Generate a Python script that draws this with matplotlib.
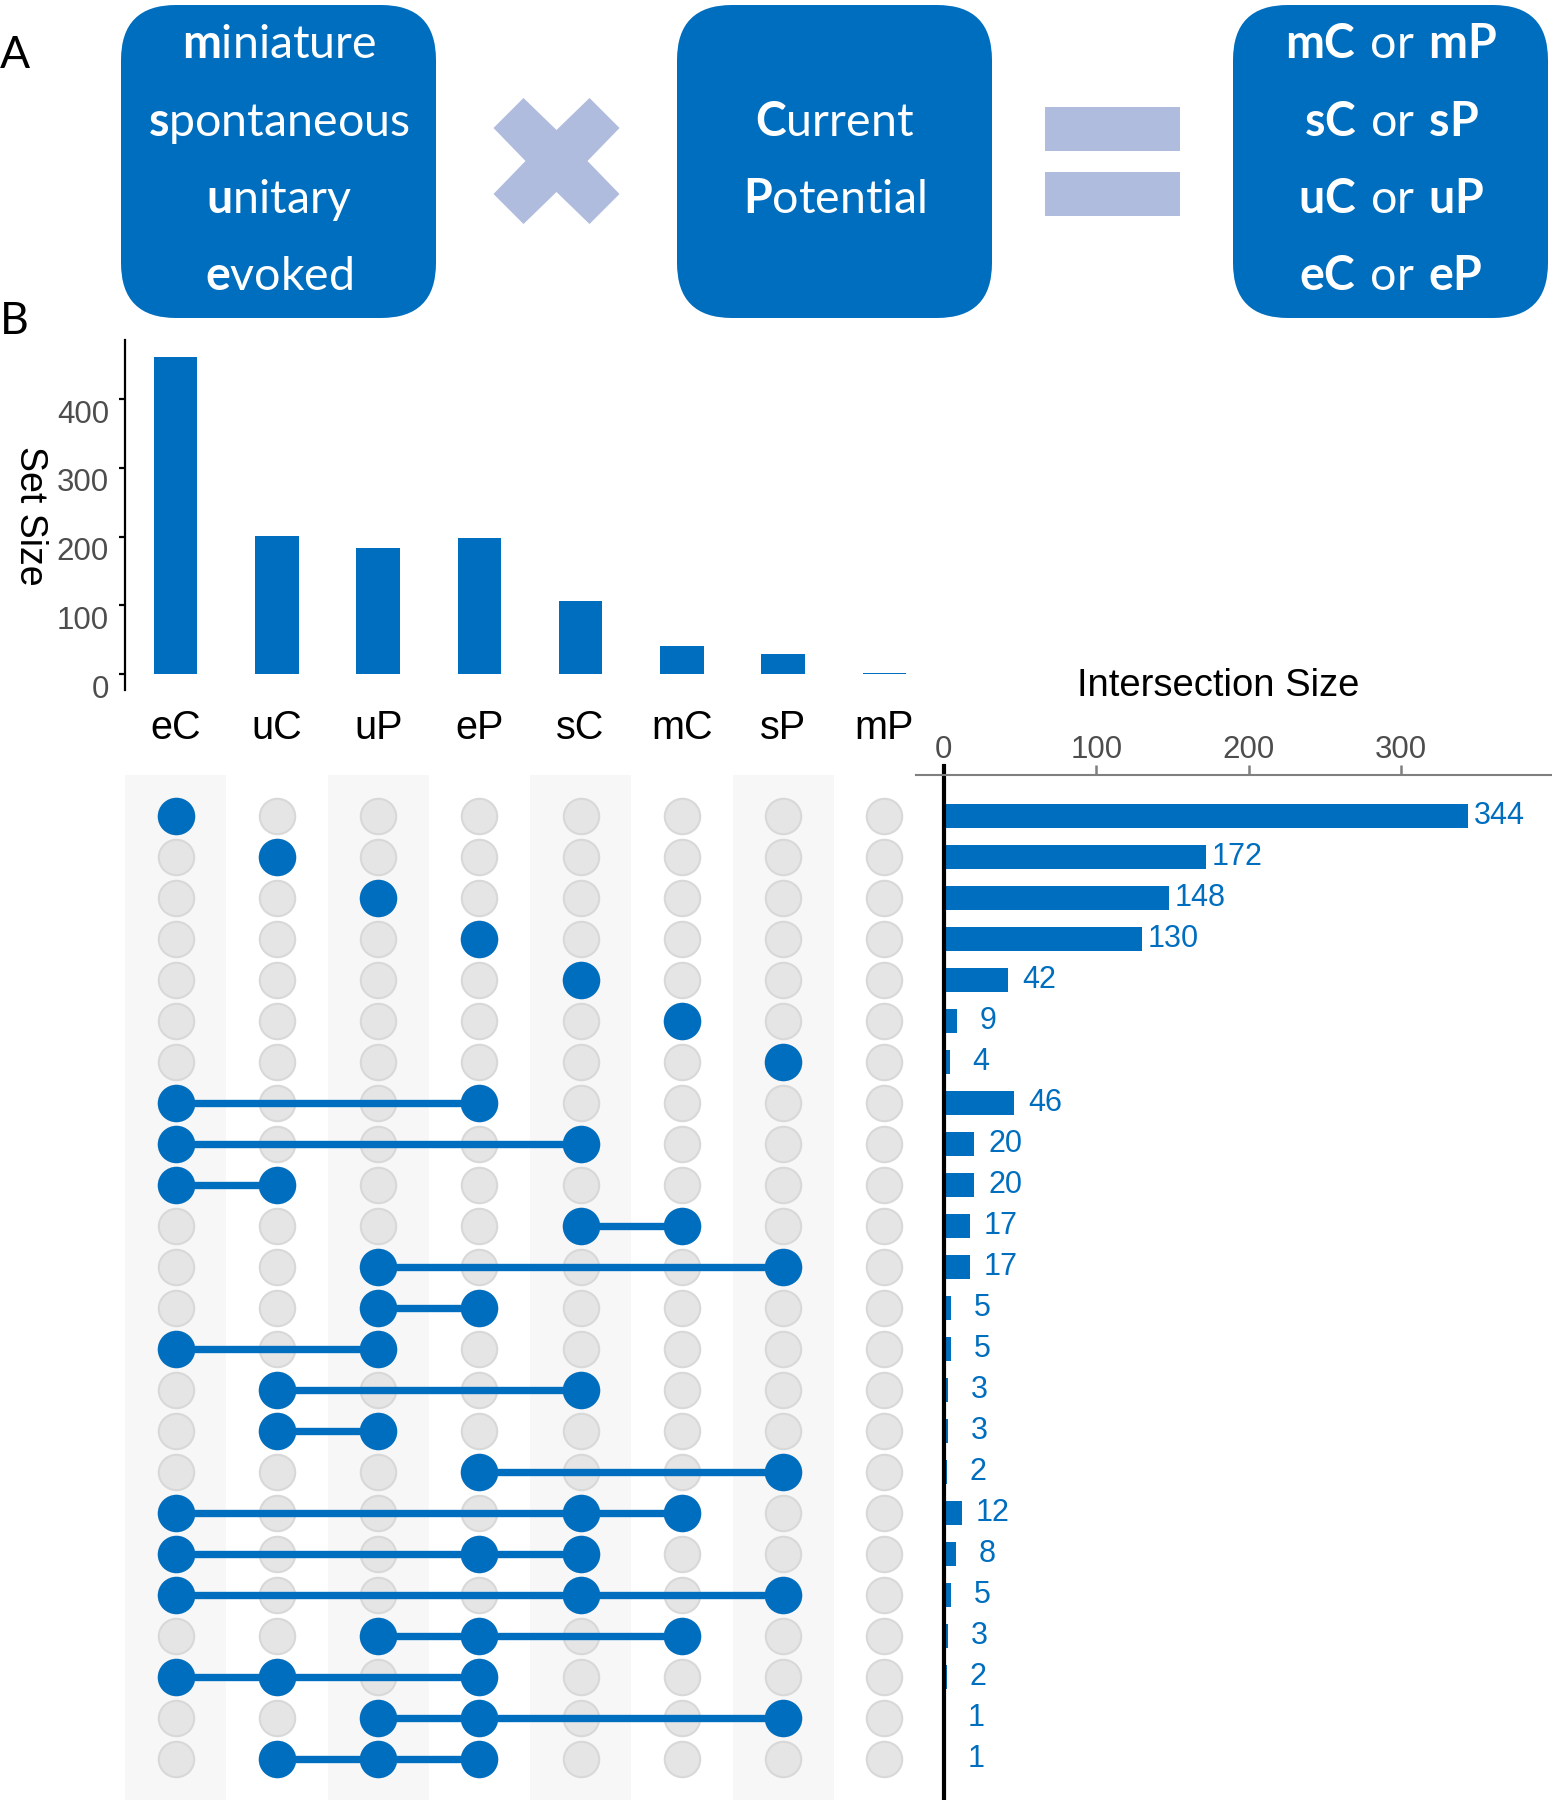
import numpy as np
import matplotlib
matplotlib.use('Agg')
import matplotlib.pyplot as plt
from matplotlib.patches import FancyBboxPatch, Polygon, Rectangle
from matplotlib.transforms import ScaledTranslation

# --- data -------------------------------------------------------------
sets = ['eC', 'uC', 'uP', 'eP', 'sC', 'mC', 'sP', 'mP']
set_sizes = [462, 201, 183, 198, 107, 41, 29, 1]

# intersections, listed top to bottom
inter_members = [
    ['eC'], ['uC'], ['uP'], ['eP'], ['sC'], ['mC'], ['sP'],
    ['eC', 'eP'], ['eC', 'sC'], ['eC', 'uC'], ['sC', 'mC'], ['uP', 'sP'],
    ['uP', 'eP'], ['eC', 'uP'], ['uC', 'sC'], ['uC', 'uP'], ['eP', 'sP'],
    ['eC', 'sC', 'mC'], ['eC', 'eP', 'sC'], ['eC', 'sC', 'sP'],
    ['uP', 'eP', 'mC'], ['eC', 'uC', 'eP'], ['uP', 'eP', 'sP'],
    ['uC', 'uP', 'eP'],
]
inter_sizes = [344, 172, 148, 130, 42, 9, 4, 46, 20, 20, 17, 17,
               5, 5, 3, 3, 2, 12, 8, 5, 3, 2, 1, 1]

set_ticks = [0, 100, 200, 300, 400]
inter_ticks = [0, 100, 200, 300]

# panel A words
event_types = ['miniature', 'spontaneous', 'unitary', 'evoked']
measures = ['Current', 'Potential']

BLUE = '#006EBF'
LIGHT = '#AFBCDD'

plt.rcParams['font.family'] = ['Liberation Sans', 'DejaVu Sans']
plt.rcParams['mathtext.fontset'] = 'custom'
plt.rcParams['mathtext.rm'] = 'Lato'
plt.rcParams['mathtext.bf'] = 'Lato:bold'

W, H = 1552, 1800
fig = plt.figure(figsize=(W / 100, H / 100), dpi=100)


def box(l, t, r, b):
    # pixel box (from top-left) -> figure fraction rect
    return [l / W, 1 - b / H, (r - l) / W, (b - t) / H]


# --- panel A: overlay in pixel coordinates -----------------------------
ax_a = fig.add_axes([0, 0, 1, 1])
ax_a.set_xlim(0, W)
ax_a.set_ylim(H, 0)
ax_a.axis('off')

box_x = [121, 677, 1233]
for bx in box_x:
    ax_a.add_patch(FancyBboxPatch((bx, 5), 315, 313,
                                  boxstyle='round,pad=0,rounding_size=55',
                                  fc=BLUE, ec='none'))

# multiplication sign
cx, cy = 556.5, 161
hs, nk = 63, 31
xs_pts = [(-hs, -hs + 30), (-hs + 30, -hs), (0, -nk), (hs - 30, -hs), (hs, -hs + 30),
          (nk, 0), (hs, hs - 30), (hs - 30, hs), (0, nk), (-hs + 30, hs),
          (-hs, hs - 30), (-nk, 0)]
ax_a.add_patch(Polygon([(cx + dx, cy + dy) for dx, dy in xs_pts],
                       closed=True, fc=LIGHT, ec='none'))
# equals sign
ax_a.add_patch(Rectangle((1045, 107), 135, 44, fc=LIGHT, ec='none'))
ax_a.add_patch(Rectangle((1045, 172), 135, 44, fc=LIGHT, ec='none'))

baselines = [58, 135.5, 213, 290.5]
fs_a = 33.5
for word, yb in zip(event_types, baselines):
    ax_a.text(279, yb, r'$\mathbf{%s}\mathrm{%s}$' % (word[0], word[1:]),
              ha='center', va='baseline', color='white', fontsize=fs_a)
for word, yb in zip(measures, baselines[1:3]):
    ax_a.text(834.5, yb, r'$\mathbf{%s}\mathrm{%s}$' % (word[0], word[1:]),
              ha='center', va='baseline', color='white', fontsize=fs_a)
for word, yb in zip(event_types, baselines):
    k = word[0]
    ax_a.text(1391, yb, r'$\mathbf{%sC}\mathrm{\ or\ }\mathbf{%sP}$' % (k, k),
              ha='center', va='baseline', color='white', fontsize=fs_a)

ax_a.text(15, 56, 'A', ha='center', va='center', fontsize=32, family='Lato')
ax_a.text(14, 321, 'B', ha='center', va='center', fontsize=32, family='Lato')

# --- panel B: set sizes ---------------------------------------------------
xpos = np.arange(len(sets))
ax_set = fig.add_axes(box(125, 340, 935, 690))
ax_set.bar(xpos, set_sizes, width=0.43, color=BLUE)
ax_set.set_xlim(-0.5, len(sets) - 0.5)
ax_set.set_ylim(-23, 486)
for s in ['top', 'right', 'bottom']:
    ax_set.spines[s].set_visible(False)
ax_set.spines['left'].set_linewidth(1.6)
ax_set.set_yticks(set_ticks)
ax_set.tick_params(axis='y', length=4.5, width=1.6, labelsize=22.5,
                   labelcolor='#4D4D4D', pad=7)
ax_set.set_xticks(xpos, sets)
ax_set.tick_params(axis='x', length=0, labelsize=28.5, pad=14)
shift = ScaledTranslation(0, -0.12, fig.dpi_scale_trans)
for lab in ax_set.get_yticklabels():
    lab.set_transform(lab.get_transform() + shift)
fig.text(30 / W, 1 - 516 / H, 'Set Size', rotation=270, ha='center',
         va='center', fontsize=27)

# --- panel B: matrix --------------------------------------------------------
n = len(inter_members)
ax_mat = fig.add_axes(box(125, 775, 935, 1800))
ax_mat.set_xlim(-0.5, len(sets) - 0.5)
ax_mat.set_ylim(n, -1)
ax_mat.axis('off')
for j in range(0, len(sets), 2):
    ax_mat.axvspan(j - 0.5, j + 0.5, color='#F7F7F7', zorder=0, lw=0)
gx, gy = np.meshgrid(xpos, np.arange(n))
ax_mat.scatter(gx.ravel(), gy.ravel(), s=25.5 ** 2, fc='#E5E5E5',
               ec='#D8D8D8', linewidths=1.5, zorder=1)
for i, members in enumerate(inter_members):
    cols = [sets.index(m) for m in members]
    if len(cols) > 1:
        ax_mat.plot([min(cols), max(cols)], [i, i], color=BLUE, lw=5.3,
                    solid_capstyle='butt', zorder=2)
    ax_mat.scatter(cols, [i] * len(cols), s=27 ** 2, color=BLUE,
                   linewidths=0, zorder=3)

# --- panel B: intersection sizes ------------------------------------------
ax_int = fig.add_axes(box(916, 775, 1552, 1800))
rows = np.arange(n)
ax_int.barh(rows, inter_sizes, height=0.6, color=BLUE)
ax_int.set_xlim(-18.2, 399)
ax_int.set_ylim(n, -1)
ax_int.xaxis.tick_top()
ax_int.set_xticks(inter_ticks)
ax_int.tick_params(axis='x', length=7, width=1.8, color='#7F7F7F',
                   labelsize=22.5, labelcolor='#4D4D4D', pad=0.5)
ax_int.tick_params(axis='y', left=False, labelleft=False)
for s in ['bottom', 'left', 'right']:
    ax_int.spines[s].set_visible(False)
ax_int.spines['top'].set_color('#7F7F7F')
ax_int.spines['top'].set_linewidth(1.5)
ax_int.axvline(0, ymin=0, ymax=1.009, color='black', lw=3, clip_on=False)
for i, v in enumerate(inter_sizes):
    ax_int.annotate(str(v), (v, i), xytext=(22.3, 0), textcoords='offset points',
                    ha='center', va='center', color=BLUE, fontsize=22)
fig.text(1218 / W, 1 - 686 / H, 'Intersection Size', ha='center', va='center',
         fontsize=27.5)

fig.savefig('out.png', dpi=100)
